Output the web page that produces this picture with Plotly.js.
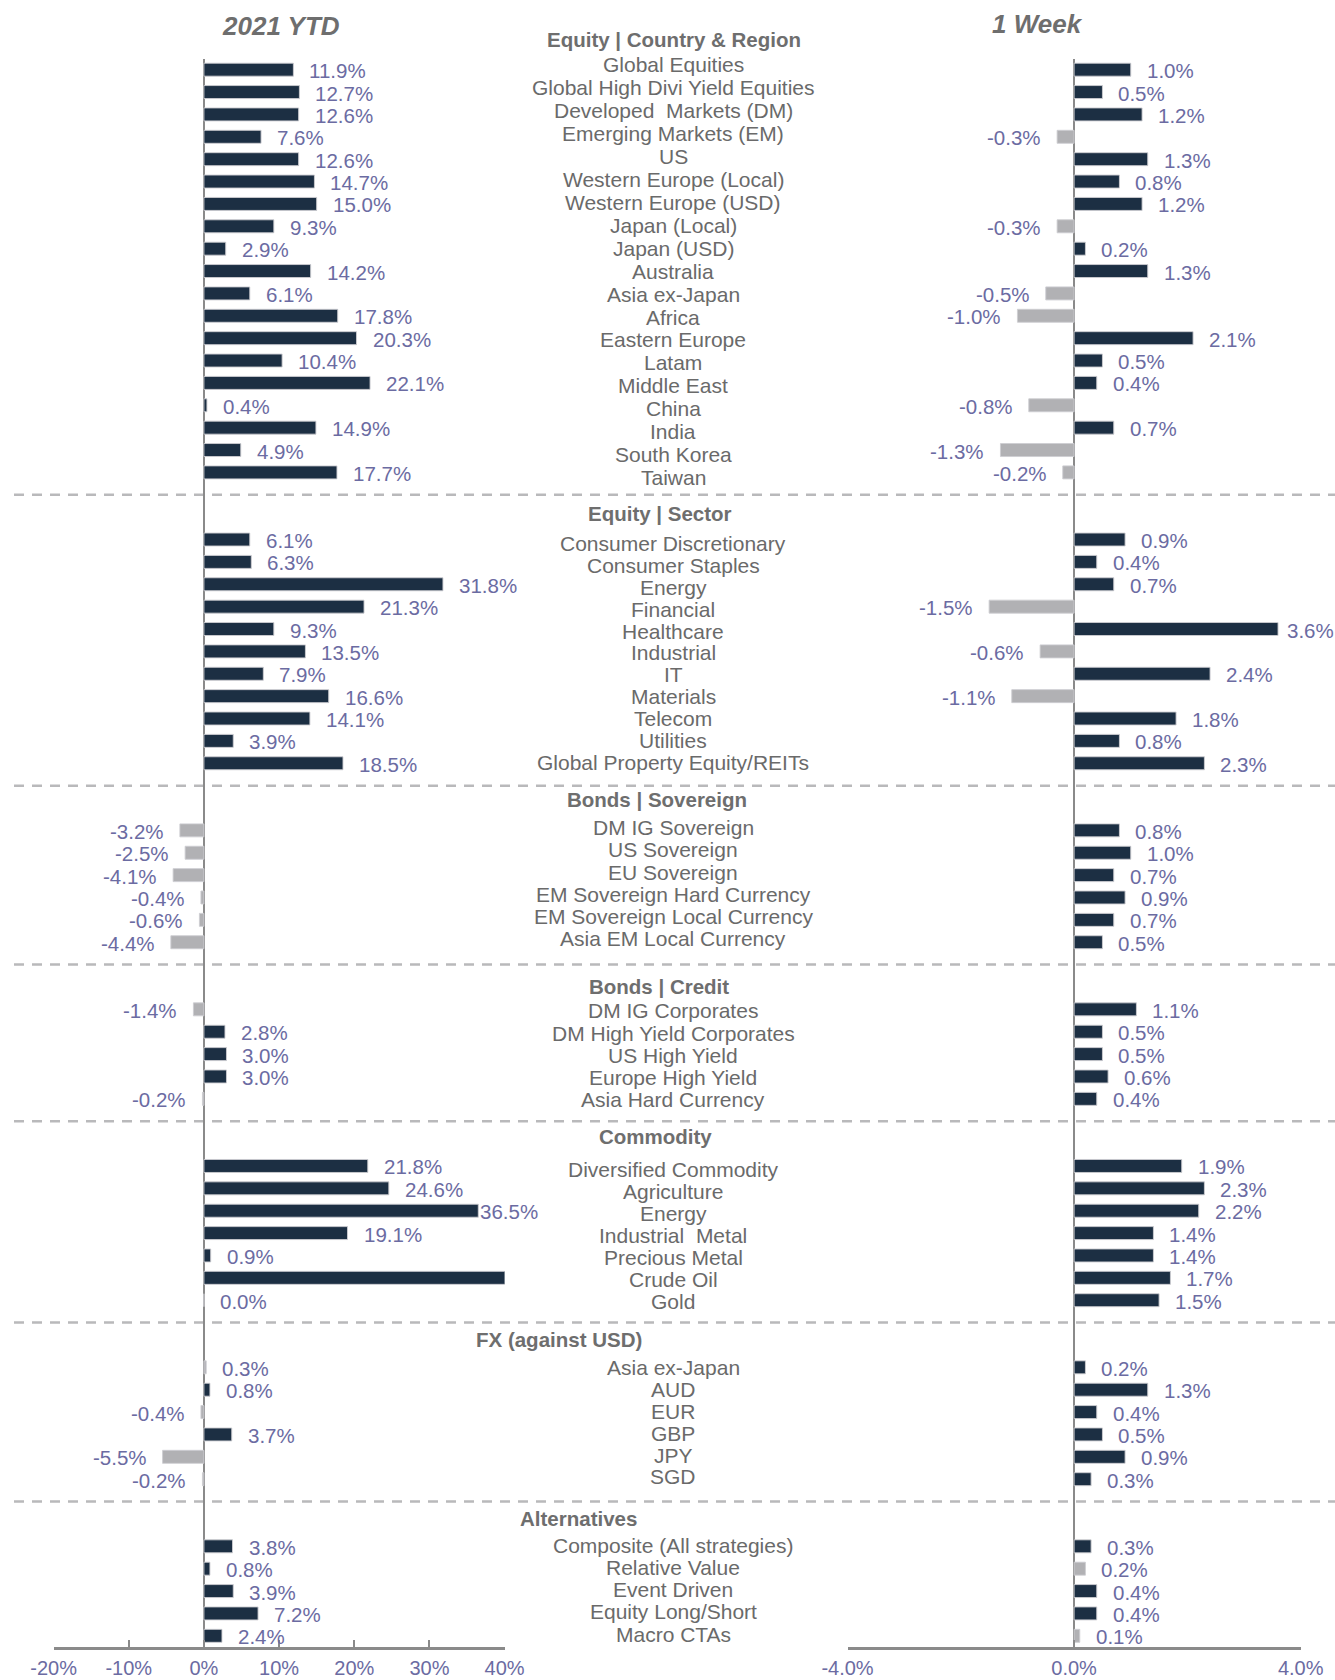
<!DOCTYPE html>
<html>
<head>
<meta charset="utf-8">
<script src="https://cdn.plot.ly/plotly-3.0.1.min.js"></script>
<style>
html,body{margin:0;padding:0;background:#ffffff;}
#chart{width:1335px;height:1680px;}
</style>
</head>
<body>
<div id="chart"></div>
<script>
// ================= DATA =================
const panelTitles = ['2021 YTD', '1 Week'];

const sectionTitles = ['Equity | Country & Region', 'Equity | Sector', 'Bonds | Sovereign',
  'Bonds | Credit', 'Commodity', 'FX (against USD)', 'Alternatives'];

const eqRegionNames = ['Global Equities', 'Global High Divi Yield Equities', 'Developed  Markets (DM)',
  'Emerging Markets (EM)', 'US', 'Western Europe (Local)', 'Western Europe (USD)', 'Japan (Local)',
  'Japan (USD)', 'Australia', 'Asia ex-Japan', 'Africa', 'Eastern Europe', 'Latam', 'Middle East',
  'China', 'India', 'South Korea', 'Taiwan'];
const eqRegionYTD = [11.9, 12.7, 12.6, 7.6, 12.6, 14.7, 15.0, 9.3, 2.9, 14.2, 6.1, 17.8, 20.3, 10.4, 22.1, 0.4, 14.9, 4.9, 17.7];
const eqRegionWeek = [1.0, 0.5, 1.2, -0.3, 1.3, 0.8, 1.2, -0.3, 0.2, 1.3, -0.5, -1.0, 2.1, 0.5, 0.4, -0.8, 0.7, -1.3, -0.2];

const eqSectorNames = ['Consumer Discretionary', 'Consumer Staples', 'Energy', 'Financial', 'Healthcare',
  'Industrial', 'IT', 'Materials', 'Telecom', 'Utilities', 'Global Property Equity/REITs'];
const eqSectorYTD = [6.1, 6.3, 31.8, 21.3, 9.3, 13.5, 7.9, 16.6, 14.1, 3.9, 18.5];
const eqSectorWeek = [0.9, 0.4, 0.7, -1.5, 3.6, -0.6, 2.4, -1.1, 1.8, 0.8, 2.3];

const sovNames = ['DM IG Sovereign', 'US Sovereign', 'EU Sovereign', 'EM Sovereign Hard Currency',
  'EM Sovereign Local Currency', 'Asia EM Local Currency'];
const sovYTD = [-3.2, -2.5, -4.1, -0.4, -0.6, -4.4];
const sovWeek = [0.8, 1.0, 0.7, 0.9, 0.7, 0.5];

const creditNames = ['DM IG Corporates', 'DM High Yield Corporates', 'US High Yield', 'Europe High Yield', 'Asia Hard Currency'];
const creditYTD = [-1.4, 2.8, 3.0, 3.0, -0.2];
const creditWeek = [1.1, 0.5, 0.5, 0.6, 0.4];

const commodityNames = ['Diversified Commodity', 'Agriculture', 'Energy', 'Industrial  Metal', 'Precious Metal', 'Crude Oil', 'Gold'];
const commodityYTD = [21.8, 24.6, 36.5, 19.1, 0.9, 42.6, 0.0];   // Crude Oil runs off the axis (label not shown)
const commodityWeek = [1.9, 2.3, 2.2, 1.4, 1.4, 1.7, 1.5];

const fxNames = ['Asia ex-Japan', 'AUD', 'EUR', 'GBP', 'JPY', 'SGD'];
const fxYTD = [0.3, 0.8, -0.4, 3.7, -5.5, -0.2];
const fxWeek = [0.2, 1.3, 0.4, 0.5, 0.9, 0.3];

const altNames = ['Composite (All strategies)', 'Relative Value', 'Event Driven', 'Equity Long/Short', 'Macro CTAs'];
const altYTD = [3.8, 0.8, 3.9, 7.2, 2.4];
const altWeek = [0.3, 0.2, 0.4, 0.4, 0.1];

// items drawn in grey although positive (as in the original)
const greyYTD = ['FX (against USD)/Asia ex-Japan', 'Commodity/Gold'];
const greyWeek = ['Alternatives/Relative Value', 'Alternatives/Macro CTAs'];

const ytdTickVals = [-20, -10, 0, 10, 20, 30, 40];
const weekTickVals = [-4, 0, 4];

// ================= TABLE BUILT FROM DATA =================
const sectionData = [
  [eqRegionNames, eqRegionYTD, eqRegionWeek],
  [eqSectorNames, eqSectorYTD, eqSectorWeek],
  [sovNames, sovYTD, sovWeek],
  [creditNames, creditYTD, creditWeek],
  [commodityNames, commodityYTD, commodityWeek],
  [fxNames, fxYTD, fxWeek],
  [altNames, altYTD, altWeek]
];

const rows = [];        // {slot, name, key, ytd, week, sec, idx}
const separators = [];  // slot
let slot = 0;
sectionData.forEach((sec, si) => {
  if (si > 0) { separators.push(slot); slot += 2; }   // separator slot + header slot
  sec[0].forEach((nm, i) => {
    rows.push({slot: slot, name: nm, key: sectionTitles[si] + '/' + nm, ytd: sec[1][i], week: sec[2][i], sec: si, idx: i});
    slot += 1;
  });
});
const lastSlot = slot - 1;

// ================= STYLE / GEOMETRY =================
const W = 1335, H = 1680;
const FONT = 'Liberation Sans, Arial, Helvetica, sans-serif';
const DARK = '#1c2f43', GREY = '#b1b1b4';
const LABEL = '#6b6ba2', TEXTGREY = '#6a6a6a', AXIS = '#8a8a8a';
const plotTop = 58.5, plotBottom = 1647;
const leftPx = [53.6, 504.6], rightPx = [847.5, 1300.7];
const ytdRange = [-20, 40], weekRange = [-4, 4];
const centerX = 673;
// text-column layout (pixel positions of the middle label column)
const headerCenters = [674, 660, 657, 659, 655, 559, 578];
const headerTops = [39.6, 513.2, 799.5, 986.5, 1136.8, 1339.3, 1518.2];
const labelStart = [64.6, 543.4, 827.4, 1010.8, 1169.8, 1367.4, 1545.2];
const labelStep = [22.95, 21.9, 22.3, 22.2, 22.0, 21.9, 22.2];

function fmt(v) { return v.toFixed(1) + '%'; }
function tickFmt0(v) { return v.toFixed(0) + '%'; }
function tickFmt1(v) { return v.toFixed(1) + '%'; }
function textW(s, size) {
  let w = 0;
  for (const c of s) {
    if (c >= '0' && c <= '9') w += 0.556;
    else if (c === '.') w += 0.278;
    else if (c === '-') w += 0.333;
    else if (c === '%') w += 0.889;
  }
  return w * size;
}

const ys = rows.map(r => r.slot);
const ytdVals = rows.map(r => r.ytd);
const weekVals = rows.map(r => r.week);
const ytdColors = rows.map(r => (r.ytd < 0 || greyYTD.includes(r.key)) ? GREY : DARK);
const weekColors = rows.map(r => (r.week < 0 || greyWeek.includes(r.key)) ? GREY : DARK);

const traces = [
  {type: 'bar', orientation: 'h', x: ytdVals, y: ys, xaxis: 'x', yaxis: 'y',
   marker: {color: ytdColors, line: {color: 'rgba(205,205,210,0.9)', width: 1}}, hoverinfo: 'none'},
  {type: 'bar', orientation: 'h', x: weekVals, y: ys, xaxis: 'x2', yaxis: 'y',
   marker: {color: weekColors, line: {color: 'rgba(205,205,210,0.9)', width: 1}}, hoverinfo: 'none'}
];

const annotations = [];
const GAP = 14, VSIZE = 20.5;
function addValueLabels(vals, xref, range, px, limit) {
  vals.forEach((v, i) => {
    if (v > range[1] || v < range[0]) return;
    const s = fmt(v);
    const barEnd = px[0] + (v - range[0]) / (range[1] - range[0]) * (px[1] - px[0]);
    if (v >= 0) {
      const tw = textW(s, VSIZE);
      let left = barEnd + GAP;
      if (left + tw > limit) left = Math.max(barEnd, limit - tw);
      annotations.push({xref: xref, yref: 'y', x: v, y: ys[i], text: s, showarrow: false,
        xanchor: 'left', yanchor: 'middle', xshift: left - barEnd, yshift: -1,
        font: {family: FONT, size: VSIZE, color: LABEL}});
    } else {
      annotations.push({xref: xref, yref: 'y', x: v, y: ys[i], text: s, showarrow: false,
        xanchor: 'right', yanchor: 'middle', xshift: -GAP, yshift: -1,
        font: {family: FONT, size: VSIZE, color: LABEL}});
    }
  });
}
addValueLabels(ytdVals, 'x', ytdRange, leftPx, 536);
addValueLabels(weekVals, 'x2', weekRange, rightPx, 1332);

rows.forEach(r => {
  const py = labelStart[r.sec] + r.idx * labelStep[r.sec];
  annotations.push({xref: 'paper', yref: 'paper', x: centerX / W, y: 1 - py / H, text: r.name.replace(/  /g, '\u00a0 '),
    showarrow: false, xanchor: 'center', yanchor: 'middle',
    font: {family: FONT, size: 21, color: TEXTGREY}});
});
sectionTitles.forEach((t, i) => {
  annotations.push({xref: 'paper', yref: 'paper', x: headerCenters[i] / W, y: 1 - headerTops[i] / H, text: '<b>' + t + '</b>',
    showarrow: false, xanchor: 'center', yanchor: 'middle',
    font: {family: FONT, size: 20.5, color: '#6e6e6e'}});
});
annotations.push({xref: 'paper', yref: 'paper', x: 281 / W, y: 1 - 26 / H, text: '<b><i>' + panelTitles[0] + '</i></b>',
  showarrow: false, xanchor: 'center', yanchor: 'middle', font: {family: FONT, size: 26, color: '#6e6e6e'}});
annotations.push({xref: 'paper', yref: 'paper', x: 1037 / W, y: 1 - 24 / H, text: '<b><i>' + panelTitles[1] + '</i></b>',
  showarrow: false, xanchor: 'center', yanchor: 'middle', font: {family: FONT, size: 26, color: '#6e6e6e'}});

const shapes = separators.map(s => ({type: 'line', xref: 'paper', yref: 'y', x0: 14 / W, x1: 1, y0: s, y1: s,
  layer: 'below', line: {color: '#b9b9bb', width: 2.5, dash: '10px,8px'}}));

function xaxisDef(px, range, tickVals, tickFn) {
  return {
    domain: [px[0] / W, px[1] / W], range: range, anchor: 'y', fixedrange: true,
    showgrid: false, zeroline: true, zerolinecolor: AXIS, zerolinewidth: 2.5,
    showline: true, linecolor: AXIS, linewidth: 2.5,
    ticks: 'inside', ticklen: 7, tickwidth: 2, tickcolor: AXIS,
    tickmode: 'array', tickvals: tickVals, ticktext: tickVals.map(tickFn),
    tickfont: {family: FONT, size: 20, color: LABEL}, ticklabelstandoff: 1
  };
}

const layout = {
  width: W, height: H,
  margin: {l: 0, r: 0, t: 0, b: 0, pad: 0},
  paper_bgcolor: '#ffffff', plot_bgcolor: 'rgba(0,0,0,0)',
  showlegend: false, hovermode: false, bargap: 0.42,
  font: {family: FONT},
  xaxis: xaxisDef(leftPx, ytdRange, ytdTickVals, tickFmt0),
  xaxis2: xaxisDef(rightPx, weekRange, weekTickVals, tickFmt1),
  yaxis: {domain: [(H - plotBottom) / H, (H - plotTop) / H], range: [lastSlot + 0.5, -0.5],
    showgrid: false, zeroline: false, showline: false, showticklabels: false, ticks: '', fixedrange: true},
  annotations: annotations,
  shapes: shapes
};

Plotly.newPlot('chart', traces, layout, {displayModeBar: false, staticPlot: true});
</script>
</body>
</html>
